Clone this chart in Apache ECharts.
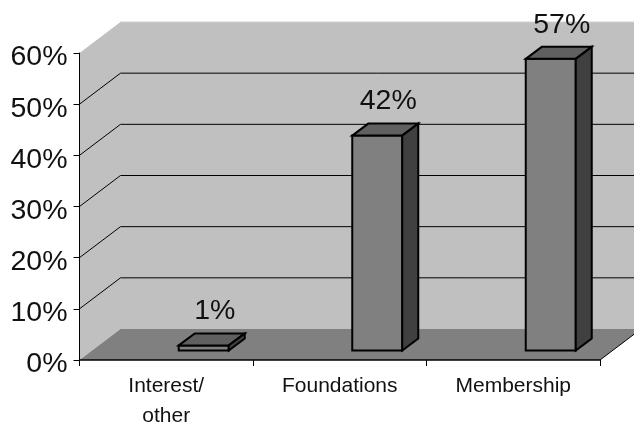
<!DOCTYPE html>
<html>
<head>
<meta charset="utf-8">
<style>html,body{margin:0;padding:0;background:#fff}#c{width:634px;height:426px}</style>
<script src="https://cdn.jsdelivr.net/npm/echarts@6/dist/echarts.min.js"></script>
</head>
<body>
<div id="c"></div>
<script>
const categories = ['Interest/\nother', 'Foundations', 'Membership'];
const shares = [1, 42, 57];
const yTicks = [0, 10, 20, 30, 40, 50, 60];

const FONT = '"Liberation Sans", Arial, sans-serif';
const wallDepth = [41, 31];
const barDepth = [16, 12];
const barInset = [12.5, 9.5];
const barWidth = 50;

function poly(points, fill, stroke, lineWidth) {
  return {
    type: 'polygon',
    shape: { points },
    style: { fill: fill, stroke: stroke || null, lineWidth: lineWidth || 0, lineJoin: 'miter' }
  };
}
function line(p, q) {
  return {
    type: 'line',
    shape: { x1: p[0], y1: p[1], x2: q[0], y2: q[1] },
    style: { stroke: '#000', lineWidth: 1 }
  };
}

function renderWalls(params, api) {
  const cs = params.coordSys;
  const v = api.value(0);
  const [dx, dy] = wallDepth;
  const y = api.coord([0, v])[1];
  const L = cs.x, R = cs.x + cs.width, B = cs.y + cs.height, T = cs.y;
  const farR = R + dx;
  const children = [];
  if (v === 0) {
    children.push(poly([[L, B], [L, T], [L + dx, T - dy], [farR, T - dy], [farR, B - dy], [L + dx, B - dy]], '#c0c0c0'));
    children.push(line([L + dx, T - dy], [farR, T - dy]));
    children[1].style.stroke = '#cfcfcf';
    children.push(poly([[L, B], [L + dx, B - dy], [farR, B - dy], [R, B]], '#808080'));
    children.push(line([R, B], [farR, B - dy]));
  } else if (v < 60) {
    children.push(line([L, y], [L + dx, y - dy]));
    children.push(line([L + dx, y - dy], [farR, y - dy]));
  }
  return { type: 'group', children };
}

function renderBar(params, api) {
  const i = api.value(0), v = api.value(1);
  const band = api.coord([i, 0]);
  const top = api.coord([i, v]);
  const x0 = band[0] + barInset[0], x1 = x0 + barWidth;
  const yb = band[1] - barInset[1], yt = top[1] - barInset[1];
  const [dx, dy] = barDepth;
  const s = '#000', w = 2;
  return {
    type: 'group',
    children: [
      poly([[x0, yb], [x0, yt], [x1, yt], [x1, yb]], '#808080', s, w),
      poly([[x0, yt], [x0 + dx, yt - dy], [x1 + dx, yt - dy], [x1, yt]], '#606060', s, w),
      poly([[x1, yb], [x1, yt], [x1 + dx, yt - dy], [x1 + dx, yb - dy]], '#404040', s, w),
      {
        type: 'text',
        style: {
          x: x0 + 36, y: yt - 34, text: v + '%',
          font: '28.5px ' + FONT, fill: '#111', align: 'center', verticalAlign: 'middle'
        }
      }
    ]
  };
}

const chart = echarts.init(document.getElementById('c'), null, { renderer: 'canvas' });
chart.setOption({
  animation: false,
  backgroundColor: '#fff',
  grid: { left: 79.5, right: 34, top: 53, bottom: 66, outerBoundsMode: 'none', containLabel: false },
  xAxis: {
    type: 'category',
    data: categories,
    z: 5,
    axisLine: { lineStyle: { color: '#000', width: 1.5 } },
    axisTick: { show: true, length: 6, interval: 0, alignWithLabel: false, lineStyle: { color: '#000', width: 1 } },
    axisLabel: { interval: 0, margin: 11, fontFamily: FONT, fontSize: 21, color: '#111', lineHeight: 30 }
  },
  yAxis: {
    type: 'value',
    min: 0, max: 60, interval: 10,
    z: 5,
    axisLine: { show: true, lineStyle: { color: '#000', width: 1 } },
    axisTick: { show: true, length: 6, lineStyle: { color: '#000', width: 1 } },
    splitLine: { show: false },
    axisLabel: { margin: 12, fontFamily: FONT, fontSize: 28.5, color: '#111', formatter: '{value}%', verticalAlign: 'top', lineHeight: 9 }
  },
  series: [
    {
      type: 'custom', z: 1, silent: true,
      coordinateSystem: 'cartesian2d',
      renderItem: renderWalls,
      encode: { y: 0 },
      data: yTicks.map(t => [t])
    },
    {
      type: 'custom', z: 2, silent: true,
      coordinateSystem: 'cartesian2d',
      renderItem: renderBar,
      encode: { x: 0, y: 1 },
      data: shares.map((v, i) => [i, v])
    }
  ]
});
</script>
</body>
</html>
